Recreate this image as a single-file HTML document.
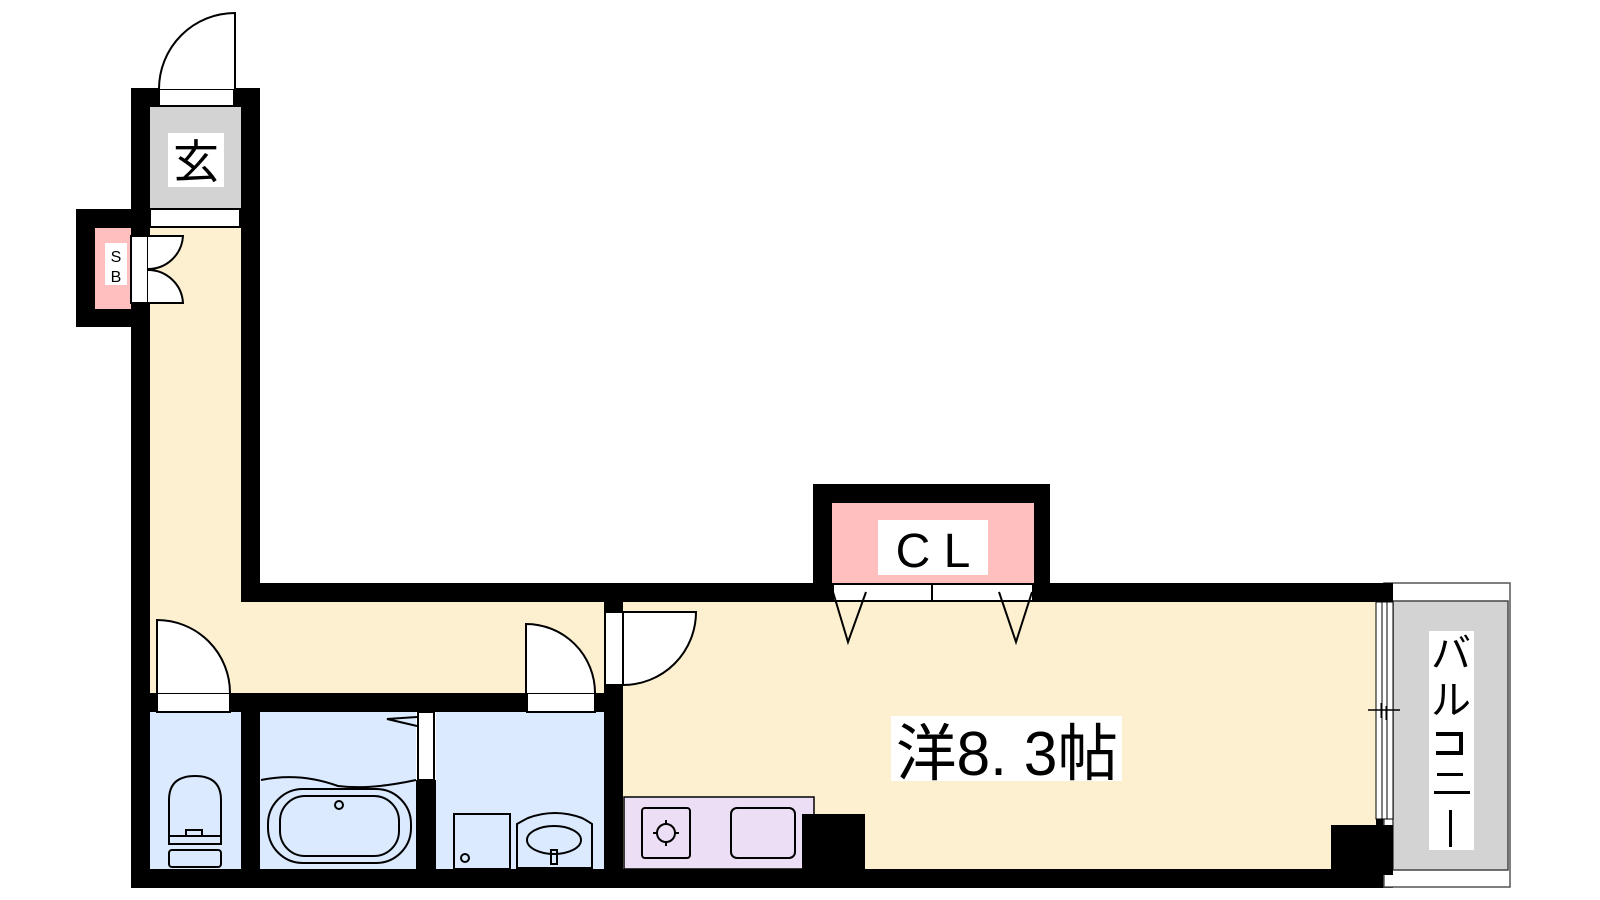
<!DOCTYPE html>
<html><head><meta charset="utf-8"><style>html,body{margin:0;padding:0;background:#fff}svg{display:block}</style></head><body>
<svg width="1600" height="900" viewBox="0 0 1600 900" xmlns="http://www.w3.org/2000/svg" font-family="'Liberation Sans','Noto Sans CJK JP',sans-serif">
<g fill="#000">
<rect x="131" y="88" width="129" height="140"/>
<rect x="76" y="209" width="70" height="118"/>
<rect x="131" y="88" width="19" height="800"/>
<rect x="241" y="88" width="19" height="514"/>
<rect x="241" y="583" width="1152" height="19"/>
<rect x="131" y="869" width="1262" height="19"/>
<rect x="131" y="693" width="492" height="19"/>
<rect x="241" y="693" width="19" height="195"/>
<rect x="604" y="583" width="19" height="305"/>
<rect x="813" y="484" width="237" height="118"/>
<rect x="1376" y="583" width="17" height="305"/>
</g>
<rect x="150" y="107" width="91" height="102" fill="#d3d3d3"/>
<rect x="150" y="228" width="91" height="465" fill="#fdf0d0"/>
<rect x="241" y="602" width="363" height="91" fill="#fdf0d0"/>
<rect x="623" y="602" width="753" height="267" fill="#fdf0d0"/>
<rect x="95" y="228" width="36" height="81" fill="#ffbfbf"/>
<rect x="832" y="503" width="202" height="80" fill="#ffbfbf"/>
<rect x="150" y="712" width="91" height="157" fill="#dbeaff"/>
<rect x="260" y="712" width="156" height="157" fill="#dbeaff"/>
<rect x="436" y="712" width="168" height="157" fill="#dbeaff"/>
<rect x="416" y="780" width="20" height="89" fill="#000"/>
<rect x="1384" y="583" width="126" height="304" fill="#fff" stroke="#555" stroke-width="1.5"/>
<rect x="1393" y="601" width="115" height="269" fill="#d3d3d3" stroke="#444" stroke-width="1.5"/>
<rect x="1376" y="583" width="17" height="19" fill="#000"/>
<rect x="1376" y="602" width="17" height="217" fill="#fff" stroke="#000" stroke-width="1"/>
<line x1="1382" y1="602" x2="1382" y2="819" stroke="#000"/>
<line x1="1387" y1="602" x2="1387" y2="819" stroke="#000"/>
<line x1="1368" y1="710" x2="1400" y2="710" stroke="#000" stroke-width="1.5"/>
<line x1="1381" y1="703" x2="1381" y2="718" stroke="#000"/>
<line x1="1386" y1="706" x2="1386" y2="720" stroke="#000"/>
<rect x="1331" y="825" width="62" height="50" fill="#000"/>
<rect x="1429" y="631" width="45" height="219" fill="#fff"/>
<g font-size="40" text-anchor="middle" fill="#000">
<text x="1451" y="667">バ</text>
<text x="1451" y="714">ル</text>
</g>
<path d="M1436 734 L1461 734 L1461 753 L1436 753" fill="none" stroke="#000" stroke-width="4"/>
<rect x="1437" y="773" width="26" height="3" fill="#000"/>
<rect x="1434" y="791" width="36" height="3" fill="#000"/>
<rect x="1449" y="810" width="3" height="37" fill="#000"/>
<g fill="#fff" stroke="#000" stroke-width="2">
<rect x="159" y="89" width="75" height="17"/>
<path d="M159 89 A76 76 0 0 1 235 13 L235 89"/>
<rect x="150" y="209" width="90" height="18"/>
<rect x="131" y="236" width="17" height="67"/>
<path d="M148 236 L183 236 A35 35 0 0 1 148 269"/>
<path d="M148 303 L183 303 A35 35 0 0 0 148 270"/>
<rect x="157" y="693" width="73" height="19"/>
<path d="M157 693 L157 620 A73 73 0 0 1 230 693"/>
<rect x="527" y="693" width="68" height="19"/>
<path d="M526 693 L526 624 A69 69 0 0 1 595 693"/>
<rect x="605" y="612" width="18" height="73"/>
<path d="M623 685 L623 612 L696 612 A73 73 0 0 1 623 685"/>
<rect x="418" y="712" width="16" height="68"/>
<rect x="833" y="584" width="200" height="17"/>
<line x1="932" y1="584" x2="932" y2="601"/>
<path d="M833 592 L848 642 L866 592" fill="none"/>
<path d="M999 592 L1016 642 L1032 592" fill="none"/>
</g>
<path d="M417 717 L387 719 L417 726" fill="none" stroke="#000" stroke-width="2"/>
<rect x="168" y="133" width="56" height="54" fill="#fff"/>
<text x="196" y="178" font-size="46" text-anchor="middle">玄</text>
<rect x="105" y="243" width="22" height="42" fill="#fff"/>
<text x="116" y="262" font-size="16" text-anchor="middle">S</text>
<text x="116" y="282" font-size="16" text-anchor="middle">B</text>
<rect x="878" y="520" width="110" height="55" fill="#fff"/>
<text x="933" y="567" font-size="48" text-anchor="middle">C L</text>
<rect x="891" y="716" width="231" height="65" fill="#fff"/>
<text x="896" y="775" font-size="62" textLength="222" lengthAdjust="spacingAndGlyphs">洋8. 3帖</text>
<g fill="none" stroke="#000" stroke-width="2">
<path d="M169 836 L169 800 Q169 776 195 776 Q221 776 221 800 L221 836 Z"/>
<rect x="169" y="836" width="52" height="8"/>
<rect x="169" y="850" width="52" height="17" rx="3"/>
<path d="M186 836 L186 830 L202 830 L202 836"/>
<path d="M261 780 Q300 772 338 786 Q370 790 416 780"/>
<rect x="268" y="789" width="143" height="74" rx="35"/>
<rect x="280" y="796" width="119" height="60" rx="25"/>
<circle cx="339" cy="805" r="4"/>
<rect x="454" y="814" width="56" height="55"/>
<circle cx="465" cy="858" r="4"/>
<path d="M517 868 L517 824 Q524 820 528 818 Q555 808 582 818 Q586 820 592 824 L592 868 Z"/>
<ellipse cx="554" cy="840" rx="27" ry="14"/>
<rect x="551" y="850" width="6" height="14"/>
</g>
<rect x="624" y="797" width="190" height="72" fill="#ecdff5" stroke="#000" stroke-width="1.5"/>
<g fill="none" stroke="#000" stroke-width="2">
<rect x="642" y="808" width="48" height="50" rx="3"/>
<circle cx="666" cy="833" r="9"/>
<line x1="666" y1="820" x2="666" y2="824"/><line x1="666" y1="842" x2="666" y2="846"/>
<line x1="653" y1="833" x2="657" y2="833"/><line x1="675" y1="833" x2="679" y2="833"/>
<rect x="731" y="808" width="64" height="50" rx="6"/>
</g>
<rect x="802" y="814" width="63" height="55" fill="#000"/>
</svg>
</body></html>
